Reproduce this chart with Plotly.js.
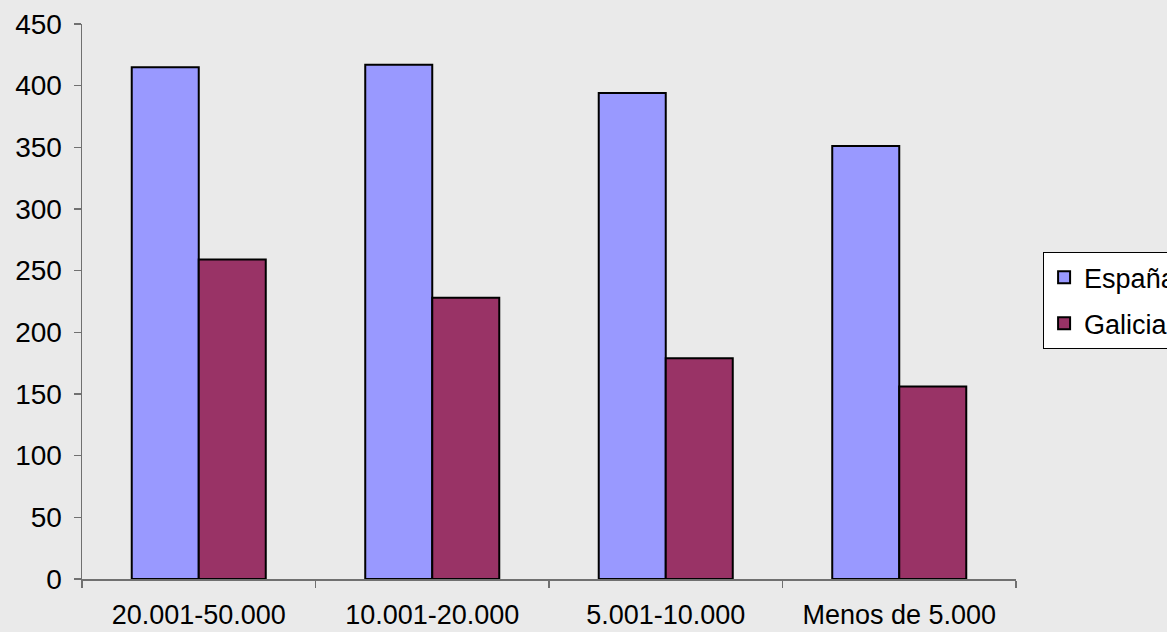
<!DOCTYPE html>
<html>
<head>
<meta charset="utf-8">
<script src="https://cdn.plot.ly/plotly-3.0.1.min.js"></script>
<style>html,body{margin:0;padding:0;background:#EAEAEA;}#chart{width:1167px;height:632px;}</style>
</head>
<body>
<div id="chart"></div>
<script>
const categories = ["20.001-50.000", "10.001-20.000", "5.001-10.000", "Menos de 5.000"];
const espana = [415, 417, 394, 351];
const galicia = [259, 228, 179, 156];
const seriesNames = ["España", "Galicia"];
const yTicks = [0, 50, 100, 150, 200, 250, 300, 350, 400, 450];

const data = [
  {type: "bar", name: seriesNames[0], x: categories, y: espana, legendgroup: "a",
   marker: {color: "#9999FF", line: {color: "#000000", width: 2}}},
  {type: "bar", name: seriesNames[1], x: categories, y: galicia, legendgroup: "b",
   marker: {color: "#993366", line: {color: "#000000", width: 2}}}
];

const layout = {
  width: 1167, height: 632,
  paper_bgcolor: "#EAEAEA", plot_bgcolor: "#EAEAEA",
  margin: {l: 82, r: 151, t: 23.5, b: 52.5, autoexpand: false},
  font: {family: "Liberation Sans, Arial, sans-serif", size: 28, color: "#000"},
  barmode: "group", bargap: 0.426, bargroupgap: 0,
  showlegend: true,
  legend: {x: 1.029, y: 0.589, xanchor: "left", yanchor: "top",
           bgcolor: "#FFFFFF", bordercolor: "#000000", borderwidth: 1,
           font: {size: 27}, tracegroupgap: 8, traceorder: "grouped"},
  xaxis: {type: "category", showline: true, linecolor: "#707070", linewidth: 1.5,
          ticks: "outside", tickson: "boundaries", ticklen: 7, tickcolor: "#707070",
          tickwidth: 1.5, showgrid: false, zeroline: false, fixedrange: true,
          tickfont: {size: 27}, ticklabelstandoff: 11},
  yaxis: {range: [0, 450], tickvals: yTicks, showline: true, linecolor: "#707070",
          linewidth: 1.5, ticks: "outside", ticklen: 7, tickcolor: "#707070", tickwidth: 1.5,
          showgrid: false, zeroline: false, ticklabelstandoff: 6, fixedrange: true}
};

Plotly.newPlot("chart", data, layout, {displayModeBar: false, staticPlot: true});
</script>
</body>
</html>
